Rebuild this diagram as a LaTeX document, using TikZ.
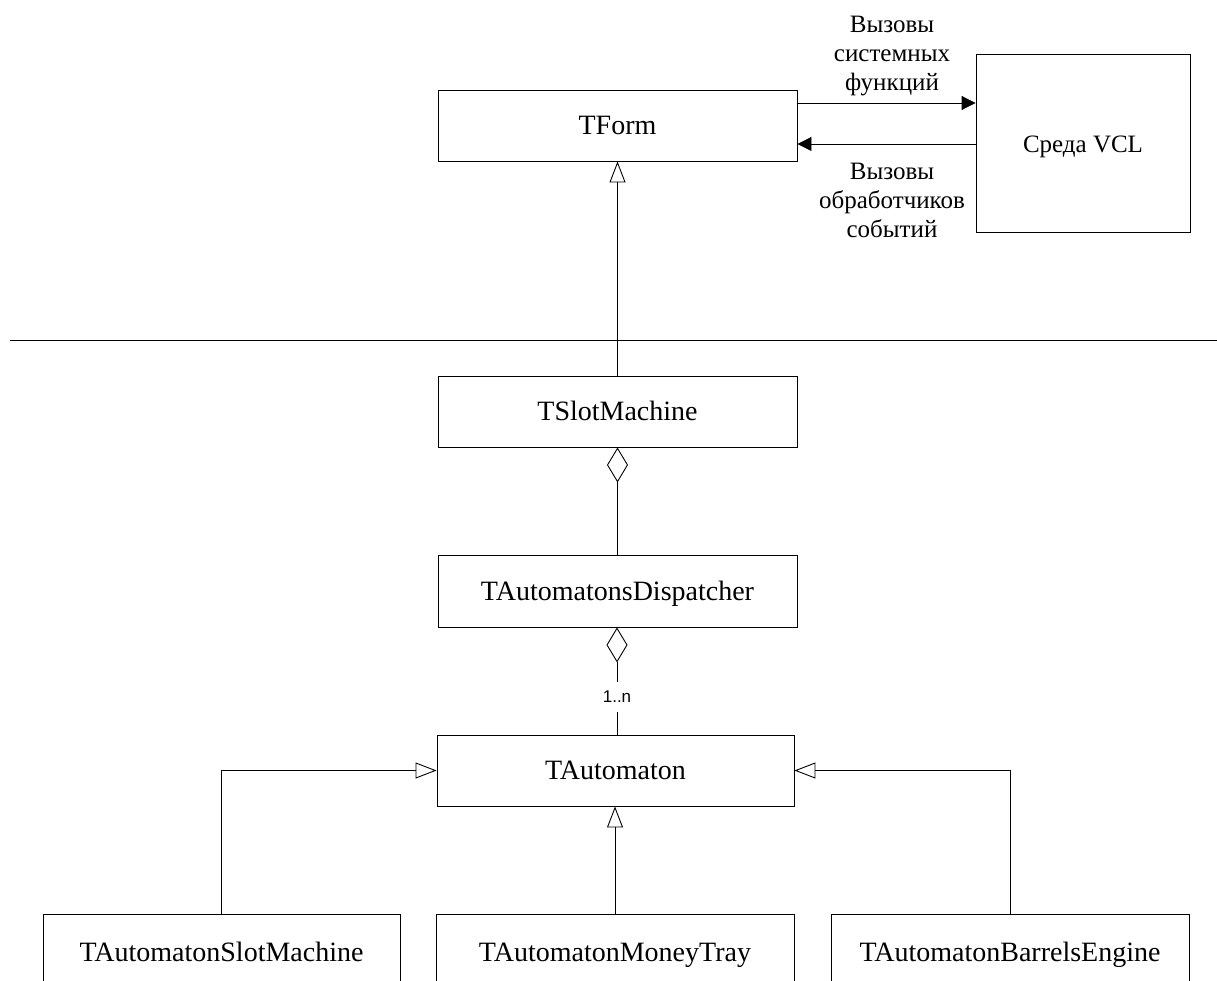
\documentclass[tikz,border=0pt]{standalone}
\usepackage{fontspec}
\setmainfont{Liberation Serif}
\newfontfamily\multfont{Liberation Sans}
\usetikzlibrary{arrows.meta,calc}
\begin{document}
\begin{tikzpicture}[x=1pt,y=-1pt,
  box/.style={draw, line width=0.9pt, inner sep=0pt, minimum width=359pt, minimum height=71pt,
    font=\fontsize{28}{33}\selectfont, text height=18.5pt, text depth=0pt},
  lbl/.style={align=center, font=\fontsize{25}{29}\selectfont, inner sep=0pt},
  conn/.style={line width=0.9pt},
  inh/.style={conn, -{Triangle[open, length=21pt, width=16pt, line width=0.9pt]}},
  agg/.style={conn, -{Diamond[open, length=35pt, width=21pt, line width=0.9pt]}},
  call/.style={conn, -{Triangle[length=14pt, width=14pt]}},
  mult/.style={fill=white, inner sep=0pt, minimum height=30pt, font=\multfont\fontsize{17}{20}\selectfont}
]
\clip (0,0) rectangle (1217,981);
\fill[white] (0,0) rectangle (1217,981);

% top part
\node[box] (tform) at (617.5,125.5) {TForm};
\node[box, minimum width=214pt, minimum height=178pt, font=\fontsize{25}{29}\selectfont] (vcl) at (1083,143) {Среда VCL};

\coordinate (u1) at ($(tform.east)+(0,-22.5)$);
\coordinate (u2) at ($(tform.east)+(0,18.5)$);
\draw[call] (u1) -- (u1 -| vcl.west);
\draw[call] (u2 -| vcl.west) -- (u2);

\node[lbl] (lup) at (892,56) {Вызовы\\системных\\функций};
\node[lbl] (ldown) at (892,200) {Вызовы\\обработчиков\\событий};

% separator
\coordinate (hl) at (10,340);
\coordinate (hr) at (1217,340);
\draw[conn] (hl) -- (hr);

% lower part
\node[box] (tslot) at (617.5,411.5) {TSlotMachine};
\node[box, minimum height=72pt] (disp) at (617.5,591) {TAutomatonsDispatcher};
\node[box, minimum width=357pt] (taut) at (615.5,770.5) {TAutomaton};

\node[box, minimum width=357pt, minimum height=76pt] (b1) at (221.5,952) {TAutomatonSlotMachine};
\node[box, minimum width=358pt, minimum height=76pt] (b2) at (615,952) {TAutomatonMoneyTray};
\node[box, minimum width=358pt, minimum height=76pt] (b3) at (1010,952) {TAutomatonBarrelsEngine};

\draw[inh] (tslot.north) -- (tform.south);
\draw[agg] (disp.north) -- (tslot.south);

\node[mult] (m) at (617,697) {1..n};
\draw[conn] (taut.north -| m) -- (m.south);
\draw[agg] (m.north) -- (disp.south -| m);

\draw[inh] (b1.north) |- (taut.west);
\draw[inh] (b2.north) -- (b2.north |- taut.south);
\draw[inh] (b3.north) |- (taut.east);
\end{tikzpicture}
\end{document}
